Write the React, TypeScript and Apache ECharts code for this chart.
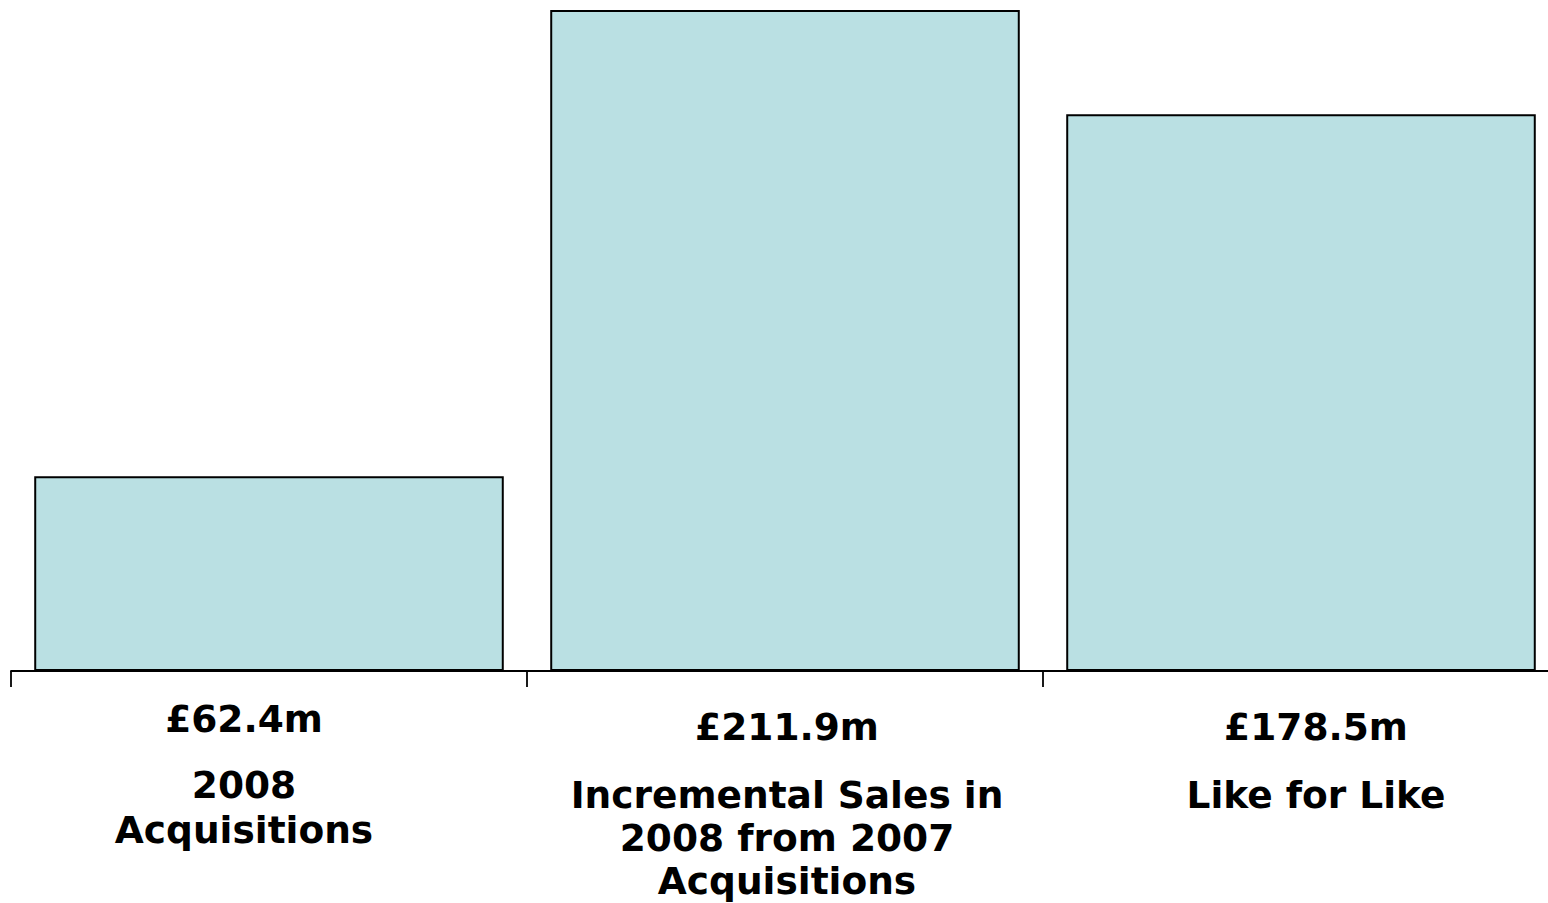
import React, { useEffect, useRef } from "react";
import * as echarts from "echarts";

const categories = ["2008\nAcquisitions", "Incremental Sales in\n2008 from 2007\nAcquisitions", "Like for Like"];
const values = [62.4, 211.9, 178.5];
const valuePrefix = "£";
const valueSuffix = "m";

export default function App() {
  const ref = useRef<HTMLDivElement>(null);
  useEffect(() => {
    if (!ref.current) return;
    const chart = echarts.init(ref.current, null, { renderer: "svg" });
    const f = { fontFamily: "DejaVu Sans", fontWeight: "bold" as const, color: "#000", fontSize: 37.5 };
    const rich: any = {
      v0: { ...f, lineHeight: 77, padding: [0, 50, 0, 0] },
      s0: { fontSize: 1, lineHeight: 5 },
      n0: { ...f, lineHeight: 45, padding: [0, 50, 0, 0] },
      v1: { ...f, lineHeight: 93, padding: [0, 0, 0, 4] },
      n1: { ...f, lineHeight: 43, padding: [0, 0, 0, 4] },
      v2: { ...f, lineHeight: 93, padding: [0, 0, 0, 30] },
      n2: { ...f, lineHeight: 43, padding: [0, 0, 0, 30] },
    };
    chart.setOption({
      animation: false,
      backgroundColor: "#fff",
      grid: { left: 11, right: 0, top: 10, bottom: 232, containLabel: false },
      xAxis: {
        type: "category",
        data: categories,
        axisLine: { show: true, lineStyle: { color: "#000", width: 1.8 } },
        axisTick: { show: true, length: 16, lineStyle: { color: "#000", width: 1.8 } },
        axisLabel: {
          interval: 0,
          margin: 9,
          hideOverlap: false,
          formatter: (val: string, idx: number) => {
            const lines = val.split("\n");
            let s = `{v${idx}|${valuePrefix}${values[idx].toFixed(1)}${valueSuffix}}\n`;
            if (idx === 0) s += `{s0| }\n`;
            s += lines.map((l) => `{n${idx}|${l}}`).join("\n");
            return s;
          },
          rich,
        },
      },
      yAxis: { type: "value", show: false, min: 0, max: "dataMax" },
      series: [
        {
          type: "bar",
          data: values,
          barCategoryGap: "9%",
          itemStyle: { color: "#BAE0E3", borderColor: "#000", borderWidth: 2 },
          label: { show: false },
        },
      ],
    });
    return () => chart.dispose();
  }, []);
  return (
    <div style={{ position: "fixed", left: 0, top: 0, width: 1548, height: 903, overflow: "hidden", background: "#fff" }}>
      <div ref={ref} style={{ position: "absolute", left: 0, top: 0, width: 1559, height: 903 }} />
    </div>
  );
}
